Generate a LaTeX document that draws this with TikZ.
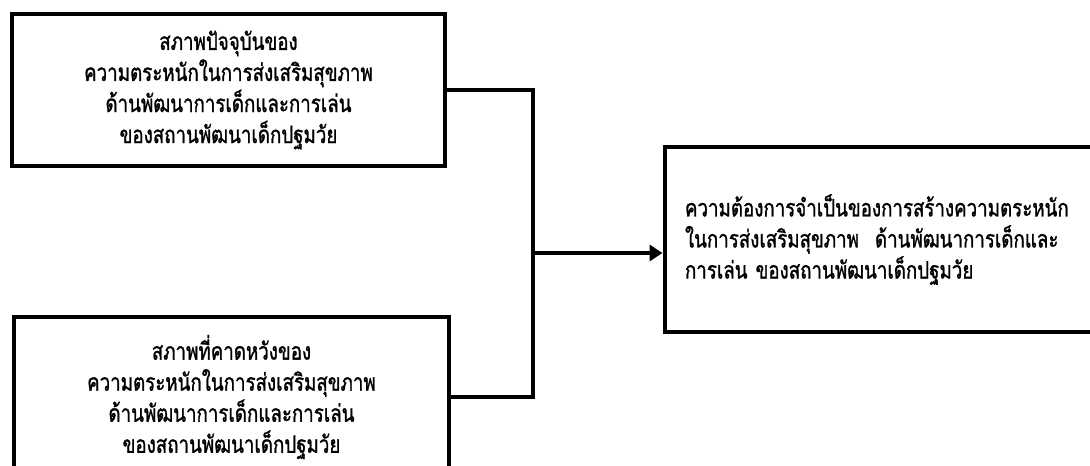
\documentclass[tikz,border=0pt]{standalone}
\usepackage{fontspec}
\newfontfamily\thaifont[Script=Thai, FakeStretch=0.78, FakeBold=1.2]{Loma}
\usetikzlibrary{arrows.meta}
\tikzset{
  box/.style={draw, line width=3.7pt, inner sep=0pt, align=center,
    font=\thaifont\fontsize{18pt}{23.3pt}\selectfont},
  link/.style={line width=3.2pt},
}
\begin{document}
\begin{tikzpicture}[x=0.75pt,y=-0.75pt]
  \useasboundingbox (0,0) rectangle (1090,466);
  \clip (0,0) rectangle (1090,466);

  % Drawing box of the present state
  \node[box, minimum width=324.75pt, minimum height=114pt] (now) at (228.5,90)
    {สภาพปัจจุบันของ\\ความตระหนักในการส่งเสริมสุขภาพ\\ด้านพัฒนาการเด็กและการเล่น\\ของสถานพัฒนาเด็กปฐมวัย};

  % Drawing box of the expected state
  \node[box, minimum width=326.25pt, minimum height=120pt] (hope) at (231.5,397)
    {สภาพที่คาดหวังของ\\ความตระหนักในการส่งเสริมสุขภาพ\\ด้านพัฒนาการเด็กและการเล่น\\ของสถานพัฒนาเด็กปฐมวัย};

  % Drawing box of the needs
  \node[box, align=left, text width=292.5pt, inner xsep=15pt, minimum height=138.75pt] (need) at (880,239.5)
    {ความต้องการจำเป็นของการสร้างความตระหนัก\\ในการส่งเสริมสุขภาพ\ \ ด้านพัฒนาการเด็กและ\\การเล่น ของสถานพัฒนาเด็กปฐมวัย};

  % Drawing connectors
  \coordinate (join) at (533,253);
  \draw[link] (now.east) -| (join);
  \draw[link] (hope.east) -| (join);
  \draw[link, -{Triangle[length=9.75pt,width=12pt]}] (join) -- (join -| need.west);
\end{tikzpicture}
\end{document}
